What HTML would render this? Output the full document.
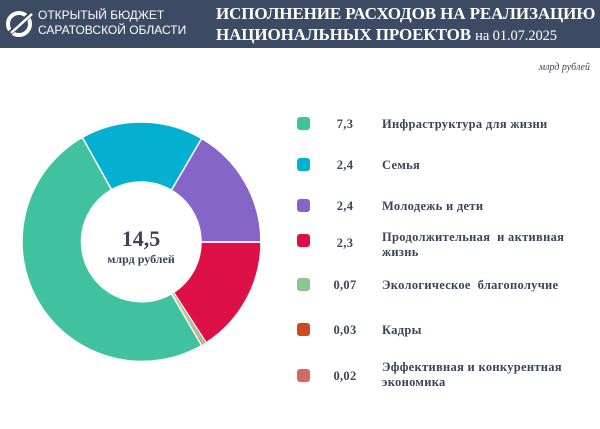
<!DOCTYPE html>
<html><head><meta charset="utf-8"><style>
body{margin:0;width:600px;height:429px;background:#fff;overflow:hidden;position:relative;font-family:"Liberation Serif","Noto Serif CJK SC",serif;color:#3a4556}
.hdr{position:absolute;left:0;top:0;width:600px;height:48px;background:#3d4a63}
.logo{position:absolute;left:38px;top:8px;color:#fff;font-family:"Liberation Sans",sans-serif;font-size:12px;line-height:15px;white-space:nowrap}
.title{position:absolute;left:216px;top:3px;color:#fff;font-weight:bold;font-size:17px;line-height:21px;letter-spacing:-0.1px;white-space:nowrap}
.title span{font-weight:normal;font-size:14.5px}
.unit{position:absolute;right:10px;top:62px;font-style:italic;font-size:10px}
.row{position:absolute;left:297px;font-weight:bold;font-size:12.5px;letter-spacing:0.3px}
.sq{position:absolute;left:0;width:13px;height:13px;border-radius:3px}
.v{position:absolute;left:30px;width:36px;text-align:center}
.l{position:absolute;left:85px;width:210px;line-height:15px}
</style></head><body>
<div class="hdr">
<svg style="position:absolute;left:5px;top:8px" width="30" height="32" viewBox="0 0 30 32"><circle cx="14" cy="16" r="11" fill="none" stroke="#fff" stroke-width="4"/><path d="M4 26 L28 4" stroke="#3d4a63" stroke-width="5"/><path d="M6 25 L27 6" stroke="#fff" stroke-width="2.5"/></svg>
<div class="logo">ОТКРЫТЫЙ БЮДЖЕТ<br>САРАТОВСКОЙ ОБЛАСТИ</div>
<div class="title">ИСПОЛНЕНИЕ РАСХОДОВ НА РЕАЛИЗАЦИЮ<br>НАЦИОНАЛЬНЫХ ПРОЕКТОВ <span>на 01.07.2025</span></div>
</div>
<div class="unit">млрд рублей</div>
<svg style="position:absolute;left:0;top:0" width="300" height="429">
<g stroke="#fff" stroke-width="1.5">
<path d="M261 242 A120 120 0 0 1 206.2 342.8 L173.6 292.4 A60 60 0 0 0 201 242Z" fill="#dc1046"/>
<path d="M206.2 342.8 A120 120 0 0 1 203.5 344.4 L172.3 293.2 A60 60 0 0 0 173.6 292.4Z" fill="#86c98a" stroke-width="0.6"/>
<path d="M203.5 344.4 A120 120 0 0 1 202.4 345.1 L171.7 293.5 A60 60 0 0 0 172.3 293.2Z" fill="#d14a1e" stroke-width="0.4"/>
<path d="M202.4 345.1 A120 120 0 0 1 201.7 345.5 L171.4 293.8 A60 60 0 0 0 171.7 293.5Z" fill="#d6686a" stroke-width="0.3"/>
<path d="M201.7 345.5 A120 120 0 0 1 82.3 137.3 L111.6 189.7 A60 60 0 0 0 171.4 293.8Z" fill="#40c1a0"/>
<path d="M82.3 137.3 A120 120 0 0 1 201.7 138.5 L171.4 190.3 A60 60 0 0 0 111.6 189.7Z" fill="#04b0d0"/>
<path d="M201.7 138.5 A120 120 0 0 1 261 242 L201 242 A60 60 0 0 0 171.4 190.3Z" fill="#8566c8"/>
</g>
<text x="141" y="246" text-anchor="middle" font-family="Liberation Serif" font-weight="bold" font-size="22" fill="#3a4556">14,5</text>
<text x="141" y="263" text-anchor="middle" font-family="Liberation Serif" font-weight="bold" font-size="12" fill="#3a4556">млрд рублей</text>
</svg>
<div class="row" style="top:117px"><div class="sq" style="background:#40c1a0"></div><div class="v">7,3</div><div class="l">Инфраструктура для жизни</div></div>
<div class="row" style="top:158px"><div class="sq" style="background:#04b0d0"></div><div class="v">2,4</div><div class="l">Семья</div></div>
<div class="row" style="top:199px"><div class="sq" style="background:#8566c8"></div><div class="v">2,4</div><div class="l">Молодежь и дети</div></div>
<div class="row" style="top:234px"><div class="sq" style="background:#dc1046"></div><div class="v" style="top:2px">2,3</div><div class="l" style="top:-4px">Продолжительная&nbsp; и активная жизнь</div></div>
<div class="row" style="top:278px"><div class="sq" style="background:#86c98a"></div><div class="v">0,07</div><div class="l">Экологическое&nbsp; благополучие</div></div>
<div class="row" style="top:323px"><div class="sq" style="background:#d14a1e"></div><div class="v">0,03</div><div class="l">Кадры</div></div>
<div class="row" style="top:369px"><div class="sq" style="background:#d6686a"></div><div class="v">0,02</div><div class="l" style="top:-9px">Эффективная и конкурентная экономика</div></div>
</body></html>
